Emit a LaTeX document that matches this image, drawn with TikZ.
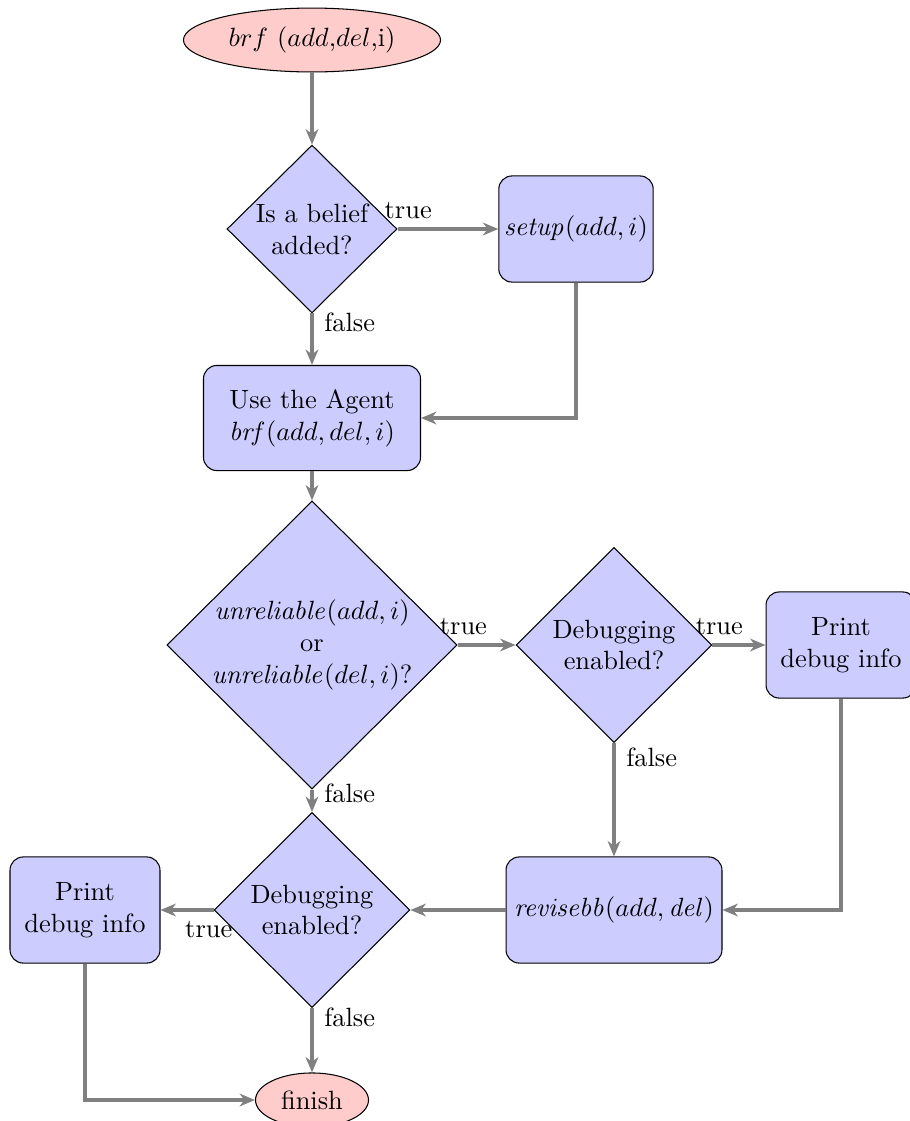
\documentclass[tikz,border=0pt]{standalone}
\usetikzlibrary{shapes.geometric,arrows.meta}
\begin{document}
\begin{tikzpicture}[x=0.3788pt,y=-0.3788pt,
  procbox/.style={draw=black, fill=blue!20, rounded corners=5pt, align=center, inner sep=2pt, minimum height=40.2pt},
  decision/.style={draw=black, fill=blue!20, diamond, inner sep=0pt},
  term/.style={draw=black, fill=red!20, ellipse, inner sep=0pt},
  conn/.style={draw=gray, line width=1.35pt, -{Stealth[length=5.8pt,width=4.8pt,inset=1.8pt]}},
  lbl/.style={inner sep=0pt, text=black}]
\useasboundingbox (0,0) rectangle (910,1121);
\clip (0,0) rectangle (910,1121);

\node[term, minimum width=97.4pt, minimum height=24.2pt] (start) at (312,40) {$brf$ ($add$,$del$,i)};
\node[decision, minimum width=64.4pt, minimum height=63.6pt,
  label={[align=center]center:Is a belief\\added?}] (d1) at (312,229) {};
\node[procbox, minimum width=56.6pt] (setup) at (576,229) {$\mathit{setup}(add,i)$};
\node[procbox, minimum width=82.2pt, minimum height=39.8pt] (agent) at (312,418) {Use the Agent\\$\mathit{brf}(add,del,i)$};
\node[decision, minimum width=109.9pt, minimum height=109.1pt,
  label={[align=center]center:$\mathit{unreliable}(add,i)$\\or\\$\mathit{unreliable}(del,i)$?}] (d2) at (312,645) {};
\node[decision, minimum width=74.2pt, minimum height=73.9pt,
  label={[align=center]center:Debugging\\enabled?}] (d3) at (614,645) {};
\node[procbox, minimum width=56.8pt] (pr1) at (841,645) {Print\\debug info};
\node[procbox, minimum width=81.8pt] (rev) at (614,910) {$\mathit{revisebb}(add,\mathit{del})$};
\node[decision, minimum width=74.2pt, minimum height=73.9pt,
  label={[align=center]center:Debugging\\enabled?}] (d4) at (312,910) {};
\node[procbox, minimum width=56.8pt] (pr2) at (85,910) {Print\\debug info};
\node[term, minimum width=42.8pt, minimum height=20.5pt] (fin) at (312,1100) {finish};

\draw[conn] (start) -- (d1);
\draw[conn] (d1) -- node[lbl, pos=0.106, above=3.3pt] (t1) {true} (setup);
\draw[conn] (d1) -- node[lbl, pos=0.17, right=4pt] (f1) {false} (agent);
\draw[conn] (setup.south) |- (agent.east);
\draw[conn] (agent) -- (d2);
\draw[conn] (d2) -- node[lbl, pos=0.1, above=3.3pt] (t2) {true} (d3);
\draw[conn] (d3) -- node[lbl, pos=0.13, above=3.3pt] (t3) {true} (pr1);
\draw[conn] (d3) -- node[lbl, pos=0.13, right=4pt] (f2) {false} (rev);
\draw[conn] (pr1.south) |- (rev.east);
\draw[conn] (rev) -- (d4);
\draw[conn] (d2) -- node[lbl, pos=0.17, right=4pt] (f3) {false} (d4);
\draw[conn] (d4) -- node[lbl, pos=0.09, below=3.7pt] (t4) {true} (pr2);
\draw[conn] (d4) -- node[lbl, pos=0.15, right=4pt] (f4) {false} (fin);
\draw[conn] (pr2.south) |- (fin.west);
\end{tikzpicture}
\end{document}
